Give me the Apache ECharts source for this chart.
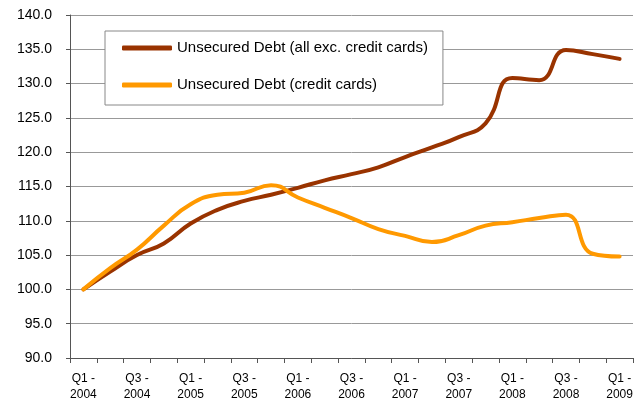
<!DOCTYPE html>
<html>
<head>
<meta charset="utf-8">
<script src="https://cdn.jsdelivr.net/npm/echarts@6/dist/echarts.min.js"></script>
<style>
  html, body { margin: 0; padding: 0; background: #fff; }
  #chart { width: 634px; height: 400px; }
</style>
</head>
<body>
<div id="chart"></div>
<script>
// quarters Q1 2004 .. Q1 2009
const quarters = [
  'Q1 -\n2004', 'Q2 -\n2004', 'Q3 -\n2004', 'Q4 -\n2004',
  'Q1 -\n2005', 'Q2 -\n2005', 'Q3 -\n2005', 'Q4 -\n2005',
  'Q1 -\n2006', 'Q2 -\n2006', 'Q3 -\n2006', 'Q4 -\n2006',
  'Q1 -\n2007', 'Q2 -\n2007', 'Q3 -\n2007', 'Q4 -\n2007',
  'Q1 -\n2008', 'Q2 -\n2008', 'Q3 -\n2008', 'Q4 -\n2008',
  'Q1 -\n2009',
]

const seriesNames = [
  'Unsecured Debt (all exc. credit cards)',
  'Unsecured Debt (credit cards)',
]

// index values (Q1 2004 = 100)
const excCreditCards = [
  100.0, 102.6, 105.0, 106.7, 109.6, 111.6, 112.9, 113.8,
  114.8, 115.9, 116.8, 117.8, 119.3, 120.7, 122.2, 124.2,
  130.8, 130.5, 134.9, 134.3, 133.6,
]
const creditCards = [
  100.0, 103.1, 105.8, 109.3, 112.4, 113.8, 114.1, 115.2,
  113.4, 111.9, 110.4, 108.8, 107.8, 106.9, 107.9, 109.3,
  109.8, 110.4, 110.9, 105.2, 104.8,
]

const lineColors = ['#993300', '#FF9900']

const chart = echarts.init(document.getElementById('chart'))

function lineSeries(name, data) {
  return {
    name: name,
    type: 'line',
    data: data,
    smooth: 0.5,
    showSymbol: false,
    symbol: 'none',
    lineStyle: {
      width: 4,
      cap: 'round',
      join: 'round',
    },
  }
}

const option = {
  animation: false,
  color: lineColors,
  textStyle: {
    fontFamily: 'Liberation Sans, Arial, sans-serif',
  },
  grid: {
    left: 70,
    right: 1,
    top: 15,
    bottom: 42,
    containLabel: false,
    outerBoundsMode: 'none',
  },
  legend: {
    orient: 'vertical',
    left: 105,
    top: 31,
    padding: [9, 15, 12, 17],
    itemGap: 21,
    itemWidth: 50,
    itemHeight: 5,
    icon: 'roundRect',
    borderColor: '#888',
    borderWidth: 1,
    borderRadius: 0,
    backgroundColor: '#fff',
    data: seriesNames,
    textStyle: {
      color: '#000',
      fontSize: 15,
      lineHeight: 16,
    },
  },
  xAxis: {
    type: 'category',
    boundaryGap: true,
    data: quarters,
    axisLine: {
      lineStyle: { color: '#555', width: 1 },
    },
    axisTick: {
      show: true,
      interval: 0,
      length: 5,
      lineStyle: { color: '#555' },
    },
    axisLabel: {
      interval: 1,
      color: '#000',
      fontSize: 12,
      lineHeight: 16,
      margin: 13,
    },
    splitLine: { show: false },
  },
  yAxis: {
    type: 'value',
    min: 90,
    max: 140,
    interval: 5,
    axisLine: {
      show: true,
      lineStyle: { color: '#555', width: 1 },
    },
    axisTick: {
      show: true,
      length: 4,
      lineStyle: { color: '#555' },
    },
    axisLabel: {
      color: '#000',
      fontSize: 14,
      margin: 18,
      formatter: (v) => v.toFixed(1),
    },
    splitLine: {
      show: true,
      lineStyle: { color: '#999', width: 1 },
    },
  },
  series: [
    lineSeries(seriesNames[0], excCreditCards),
    lineSeries(seriesNames[1], creditCards),
  ],
}

chart.setOption(option)
</script>
</body>
</html>
